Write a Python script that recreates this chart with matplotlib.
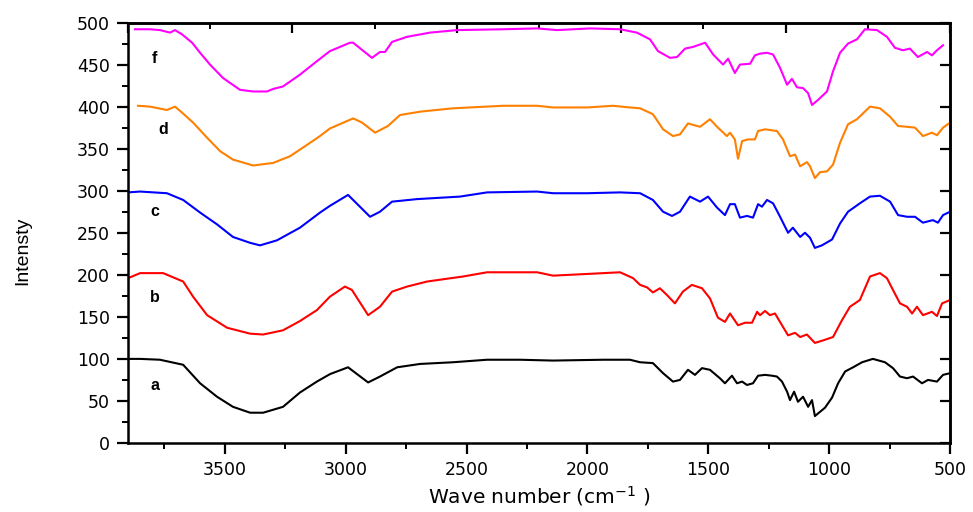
import numpy as np
import matplotlib
matplotlib.use("Agg")
import matplotlib.pyplot as plt
from matplotlib.ticker import MultipleLocator

# FTIR spectra (wavenumber in cm^-1, stacked intensity)
wn_a = [3900, 3850, 3768, 3672, 3602, 3532, 3466, 3395, 3341, 3259, 3189, 3119, 3064, 2990, 2907, 2858,
        2787, 2692, 2556, 2415, 2279, 2142, 1935, 1824, 1782, 1729, 1687, 1646, 1617, 1584, 1555, 1526,
        1493, 1452, 1431, 1402, 1381, 1360, 1340, 1315, 1294, 1265, 1236, 1216, 1195, 1174, 1162, 1145,
        1129, 1108, 1087, 1071, 1059, 1038, 1017, 988, 963, 934, 901, 864, 819, 769, 736, 707, 678, 653,
        616, 591, 554, 529, 500]
int_a = [100, 100, 99, 93, 71, 55, 43, 36, 36, 43, 60, 73, 82, 90, 72, 79,
         90, 94, 96, 99, 99, 98, 99, 99, 96, 95, 83, 73, 75, 87, 81, 89,
         87, 77, 71, 80, 71, 73, 69, 71, 80, 81, 80, 79, 73, 61, 51, 61,
         49, 55, 43, 51, 32, 37, 42, 54, 71, 85, 90, 96, 100, 96, 89, 79, 77, 79,
         71, 75, 73, 81, 83]

wn_b = [3900, 3850, 3755, 3672, 3631, 3573, 3490, 3395, 3341, 3259, 3189, 3119, 3065, 3003, 2974, 2907,
        2858, 2808, 2746, 2663, 2514, 2415, 2208, 2142, 2002, 1865, 1811, 1782, 1753, 1729, 1700, 1671,
        1638, 1605, 1568, 1526, 1493, 1460, 1431, 1410, 1377, 1348, 1319, 1298, 1286, 1265, 1245, 1224,
        1195, 1170, 1141, 1120, 1092, 1059, 1025, 984, 947, 914, 873, 831, 790, 761, 736, 707, 678, 657,
        637, 612, 575, 554, 533, 500]
int_b = [196, 202, 202, 192, 174, 152, 137, 130, 129, 134, 145, 158, 174, 186, 182, 152,
         162, 180, 186, 192, 198, 203, 203, 199, 201, 203, 196, 188, 185, 179, 184, 176,
         166, 180, 188, 184, 172, 149, 144, 154, 140, 143, 143, 156, 152, 157, 152, 154,
         140, 128, 131, 126, 129, 119, 122, 126, 146, 162, 170, 198, 202, 196, 182, 166, 162, 154,
         162, 152, 156, 151, 166, 170]

wn_c = [3900, 3850, 3739, 3672, 3602, 3532, 3466, 3395, 3354, 3284, 3189, 3106, 3065, 2990, 2899, 2858,
        2808, 2705, 2527, 2415, 2208, 2142, 2002, 1865, 1782, 1729, 1687, 1650, 1617, 1576, 1534, 1501,
        1464, 1431, 1410, 1390, 1369, 1340, 1315, 1294, 1278, 1257, 1232, 1203, 1170, 1150, 1120, 1100,
        1079, 1059, 1030, 988, 955, 922, 873, 831, 790, 748, 715, 678, 645, 612, 571, 550, 529, 500]
int_c = [298, 299, 297, 289, 274, 260, 245, 238, 235, 241, 256, 274, 282, 295, 269, 275,
         287, 290, 293, 298, 299, 297, 297, 298, 297, 289, 275, 270, 275, 293, 287, 293,
         280, 271, 284, 284, 268, 270, 268, 284, 281, 289, 285, 269, 250, 256, 245, 250,
         244, 232, 235, 242, 261, 275, 285, 293, 294, 287, 271, 269, 269, 262, 265, 262, 271, 275]

wn_d = [3859, 3809, 3739, 3706, 3677, 3631, 3573, 3519, 3466, 3383, 3300, 3230, 3147, 3106, 3065, 2969,
        2932, 2878, 2825, 2775, 2692, 2556, 2349, 2208, 2142, 2002, 1894, 1824, 1782, 1729, 1687, 1646,
        1617, 1584, 1534, 1493, 1460, 1423, 1410, 1390, 1377, 1360, 1336, 1307, 1294, 1265, 1216, 1191,
        1162, 1141, 1120, 1092, 1079, 1059, 1038, 1009, 984, 955, 922, 885, 831, 790, 748, 715, 678, 645,
        612, 575, 554, 529, 500]
int_d = [401, 400, 396, 400, 393, 381, 363, 347, 337, 330, 333, 341, 357, 365, 374, 386,
         381, 369, 377, 390, 394, 398, 401, 401, 399, 399, 401, 399, 398, 391, 373, 365,
         367, 380, 376, 385, 375, 365, 369, 361, 338, 359, 361, 361, 371, 373, 371, 361,
         341, 343, 329, 334, 329, 315, 322, 323, 331, 357, 379, 385, 400, 398, 388, 377, 376, 375,
         365, 369, 366, 375, 381]

wn_f = [3871, 3809, 3768, 3726, 3706, 3677, 3635, 3602, 3561, 3507, 3437, 3383, 3325, 3300, 3259, 3189,
        3119, 3065, 2982, 2969, 2891, 2858, 2837, 2808, 2746, 2651, 2539, 2349, 2208, 2126, 1989, 1865,
        1795, 1741, 1708, 1658, 1629, 1596, 1563, 1513, 1480, 1439, 1418, 1390, 1369, 1327, 1307, 1286,
        1257, 1232, 1203, 1174, 1154, 1133, 1108, 1087, 1071, 1046, 1009, 984, 955, 922, 885, 852, 802,
        761, 728, 695, 666, 633, 595, 575, 554, 529]
int_f = [492, 492, 491, 488, 491, 486, 476, 464, 450, 434, 420, 418, 418, 421, 424, 438,
         454, 466, 476, 476, 458, 465, 465, 477, 483, 488, 491, 492, 493, 491, 493, 492,
         488, 480, 466, 458, 459, 469, 471, 476, 462, 450, 457, 440, 450, 451, 461, 463,
         464, 462, 446, 426, 433, 423, 422, 416, 402, 408, 418, 442, 464, 475, 480, 492, 491,
         483, 470, 467, 469, 459, 465, 461, 467, 473]

labels = ["a", "b", "c", "d", "f"]
label_wn = [3790, 3790, 3790, 3755, 3790]
label_y = [68, 173, 275, 373, 457]
colors = ["#000000", "#FF0000", "#0000FF", "#FF8000", "#FF00FF"]

fig = plt.figure(figsize=(9.73, 5.12), dpi=100)
ax = fig.add_axes([0.1316, 0.1348, 0.8448, 0.8212])

series = [(wn_a, int_a), (wn_b, int_b), (wn_c, int_c), (wn_d, int_d), (wn_f, int_f)]
for (w, y), c in zip(series, colors):
    ax.plot(w, y, color=c, lw=1.5, solid_joinstyle="round")

for lab, lx, ly in zip(labels, label_wn, label_y):
    ax.text(lx, ly, lab, ha="center", va="center", fontsize=11.5, fontweight="bold",
            family="Liberation Sans")

ax.set_xlim(3900, 500)
ax.set_ylim(0, 500)
ax.xaxis.set_major_locator(MultipleLocator(500))
ax.xaxis.set_minor_locator(MultipleLocator(250))
ax.yaxis.set_major_locator(MultipleLocator(50))
ax.yaxis.set_minor_locator(MultipleLocator(25))
ax.tick_params(which="major", direction="out", length=8, width=1.6, labelsize=12.5, pad=5)
ax.tick_params(which="minor", direction="out", length=4.5, width=1.4)
for s in ax.spines.values():
    s.set_linewidth(1.8)

# inward ticks on top and right
top = ax.secondary_xaxis("top")
top.set_xticks(np.linspace(3900, 500, 6))
top.set_xticks(np.linspace(3900, 500, 11)[1::2], minor=True)
top.tick_params(which="major", direction="in", length=7, width=1.6, labeltop=False)
top.tick_params(which="minor", direction="in", length=4, width=1.4)
top.spines["top"].set_linewidth(1.8)

right = ax.secondary_yaxis("right")
right.set_yticks(np.arange(0, 501, 50))
right.tick_params(which="major", direction="in", length=7, width=1.6, labelright=False)
right.spines["right"].set_linewidth(1.8)

ax.set_xlabel("Wave number (cm$^{-1}$ )", fontsize=14.5, labelpad=4)
ax.set_ylabel("Intensty", fontsize=14, family="Liberation Sans")
ax.yaxis.set_label_coords(-0.118, 0.457)

fig.savefig("out.png", dpi=100)
